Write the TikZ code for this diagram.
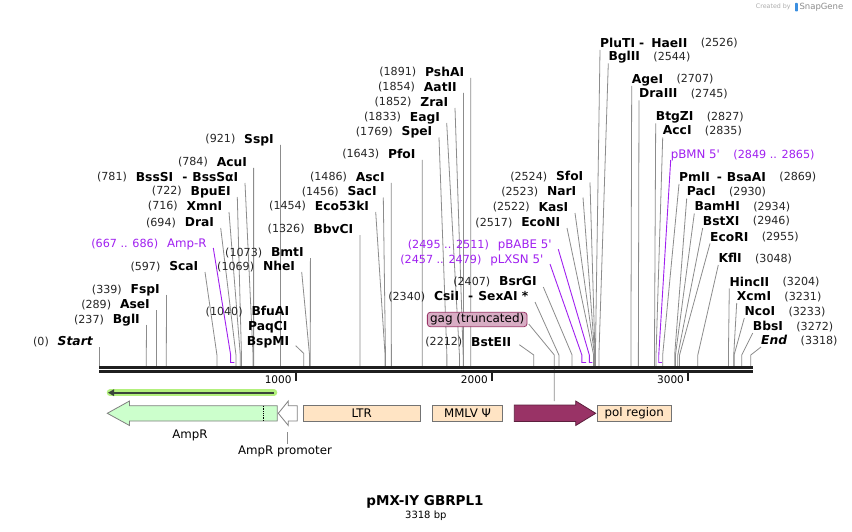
\documentclass[tikz,border=0pt]{standalone}
\usepackage{fontspec}
\setmainfont{DejaVu Sans}
\newfontfamily\primerfont{DejaVu Sans}
\usetikzlibrary{positioning}
\usetikzlibrary{calc}
\usetikzlibrary{arrows.meta}
\definecolor{linegray}{HTML}{8C8C8C}
\definecolor{primer}{HTML}{A020F0}
\definecolor{ampgreen}{HTML}{CCFFCC}
\definecolor{bisque}{HTML}{FFE4C4}
\definecolor{gagred}{HTML}{993366}
\definecolor{gagpink}{HTML}{D8ADC4}
\definecolor{orfglow}{HTML}{B2F07C}
\definecolor{orfdark}{HTML}{3A453A}
\definecolor{snapblue}{HTML}{3B8FE0}
\newcommand{\bpx}[1]{99.8+0.1962*#1}
\tikzset{sitename/.style={font=\fontsize{12.3}{14}\selectfont\bfseries, inner sep=0pt, text height=9pt, text depth=0pt}}
\tikzset{sitepos/.style={font=\fontsize{11.1}{13}\selectfont, text=black!85, inner sep=0pt, text height=8pt, text depth=0pt}}
\tikzset{primername/.style={font=\fontsize{11.8}{14}\primerfont, text=primer, inner sep=0pt, text height=8.6pt, text depth=0pt}}
\tikzset{primerpos/.style={primername, font=\fontsize{11.2}{13}\primerfont}}
\tikzset{siteline/.style={draw=linegray, line width=0.8pt}}
\tikzset{primerline/.style={draw=primer, line width=0.9pt}}
\tikzset{featbox/.style={draw=black!55, fill=bisque, line width=0.8pt, inner sep=0pt, minimum height=15.5pt, font=\fontsize{11.8}{13}\selectfont}}
\tikzset{featlabel/.style={font=\fontsize{11.8}{13}\selectfont, inner sep=0pt}}
\tikzset{ticklabel/.style={font=\fontsize{10.5}{13}\selectfont, inner sep=0pt, anchor=east}}

\begin{document}
\begin{tikzpicture}[x=1pt, y=-1pt]
\useasboundingbox (0,0) rectangle (852,532);
\fill[white] (0,0) rectangle (852,532);

% sites labelled on the left
\foreach \id/\nm/\ps/\tx/\ty in {
  start/\textit{Start}/0/99.8/347, bgl/BglI/237/146.5/325, ase/AseI/289/156.5/310,
  fsp/FspI/339/166.5/295, sca/ScaI/597/205/272, dra/DraI/694/220.7/228,
  xmn/XmnI/716/229/212, bpu/BpuEI/722/237.3/197,
  bss/{BssSI\hspace{9pt}-\hspace{5pt}BssSαI}/781/245/183, acu/AcuI/784/253.6/168,
  ssp/SspI/921/280.5/145, bmt/BmtI/1073/310.4/258, nhe/NheI/1069/301.7/272,
  bbv/BbvCI/1326/360/235, ecok/Eco53kI/1454/375.7/212, sac/SacI/1456/383.3/197.5,
  asc/AscI/1486/391.3/183, pfo/PfoI/1643/422.2/160, spe/SpeI/1769/439/137.5,
  eag/EagI/1833/446.7/123, zra/ZraI/1852/455/108, aat/AatII/1854/463.5/93,
  psh/PshAI/1891/470.8/78, csi/{CsiI\hspace{9pt}-\hspace{5pt}SexAI *}/2340/535/302,
  bsrg/BsrGI/2407/543.3/287, econ/EcoNI/2517/567/228, kas/KasI/2522/575/213,
  nar/NarI/2523/583/197.5, sfo/SfoI/2524/590/182.5}{
  \coordinate (\id-t) at (\tx,\ty);
  \coordinate (\id-b) at ({\bpx{\ps}},355);
  \coordinate (\id-s) at ({\bpx{\ps}},366);
  \node[sitename, anchor=east] (\id) at ($(\id-t)+(-6.5,-6)$) {\nm};
  \node[sitepos, left=8.5pt of \id] (\id-p) {(\ps)};
  \draw[siteline] (\id-t) -- (\id-b) -- (\id-s);
}

% sites labelled on the right
\foreach \id/\nm/\ps/\tx/\ty in {
  plu/{PluTI\hspace{4pt}-\hspace{7pt}HaeII}/2526/600/50, bglii/BglII/2544/608.3/63.3,
  age/AgeI/2707/631.7/86, draiii/DraIII/2745/639/100.5, btg/BtgZI/2827/655.7/123.3,
  acc/AccI/2835/662.7/137.5, pml/{PmlI\hspace{7pt}-\hspace{5pt}BsaAI}/2869/679/184,
  pac/PacI/2930/686.7/198.5, bam/BamHI/2934/694.3/213.5, bstx/BstXI/2946/702.7/228,
  ecor/EcoRI/2955/710/243.5, kfl/KflI/3048/718.3/265, hinc/HincII/3204/729.3/288.5,
  xcm/XcmI/3231/736.7/303, nco/NcoI/3233/744.3/318, bbs/BbsI/3272/752.7/333,
  fin/\textit{End}/3318/761/347}{
  \coordinate (\id-t) at (\tx,\ty);
  \coordinate (\id-b) at ({\bpx{\ps}},355);
  \coordinate (\id-s) at ({\bpx{\ps}},366);
  \node[sitename, anchor=west] (\id) at ($(\id-t)+(0,-7)$) {\nm};
  \node[sitepos, right=13pt of \id] (\id-p) {(\ps)};
  \draw[siteline] (\id-t) -- (\id-b) -- (\id-s);
}

% BfuAI / PaqCI / BspMI
\node[sitename] (bfu) at (270.3,311) {BfuAI};
\node[sitename] (paq) at (267.8,326) {PaqCI};
\node[sitename] (bspm) at (268,341) {BspMI};
\node[sitepos, left=8.5pt of bfu] (bfu-p) {(1040)};
\coordinate (bfu-t) at (295.7,345.7);
\coordinate (bfu-b) at ({\bpx{1040}},353.5);
\coordinate (bfu-s) at ({\bpx{1040}},366);
\draw[siteline] (bfu-t) -- (bfu-b) -- (bfu-s);

% BstEII
\node[sitename, anchor=east] (bste) at (511.5,341.5) {BstEII};
\node[sitepos, left=8.5pt of bste] (bste-p) {(2212)};
\coordinate (bste-t) at (519.3,344.7);
\coordinate (bste-b) at ({\bpx{2212}},355);
\coordinate (bste-s) at ({\bpx{2212}},366);
\draw[siteline] (bste-t) -- (bste-b) -- (bste-s);

% primers
\foreach \id/\nm/\ps/\tx/\ty/\pa/\pb in {
  ampr/Amp-R/667 .. 686/213.3/248/667/686,
  lxsn/pLXSN 5'/2457 .. 2479/550/264/2457/2479,
  babe/pBABE 5'/2495 .. 2511/558.3/249.3/2495/2511}{
  \coordinate (\id-t) at (\tx,\ty);
  \coordinate (\id-b) at ({\bpx{\pa}},355);
  \coordinate (\id-s) at ({\bpx{\pa}},362.5);
  \coordinate (\id-e) at ({\bpx{\pb}},362.5);
  \node[primername, anchor=east] (\id) at ($(\id-t)+(-6.5,-5)$) {\nm};
  \node[primerpos, left=8.5pt of \id] (\id-p) {(\ps)};
  \draw[primerline] (\id-t) -- (\id-b) -- (\id-s) -- (\id-e);
}
\coordinate (pbmn-t) at (670.7,160);
\coordinate (pbmn-b) at ({\bpx{2849}},355);
\coordinate (pbmn-s) at ({\bpx{2849}},362.5);
\coordinate (pbmn-e) at ({\bpx{2865}},362.5);
\node[primername, anchor=west] (pbmn) at ($(pbmn-t)+(0,-6)$) {pBMN 5'};
\node[primerpos, right=13pt of pbmn] (pbmn-p) {(2849 .. 2865)};
\draw[primerline] (pbmn-t) -- (pbmn-b) -- (pbmn-s) -- (pbmn-e);

% gag label
\node[draw=gagred, fill=gagpink, rounded corners=3pt, line width=0.8pt, inner sep=0pt,
  minimum width=99.7pt, minimum height=14.4pt, font=\fontsize{12}{13}\selectfont] (gag) at (477.2,319.5) {gag (truncated)};
\coordinate (gag-b) at (554.3,355);
\coordinate (gag-s) at (554.3,401);
\draw[siteline] ($(gag.east)+(1.3,4.5)$) -- (gag-b) -- (gag-s);

% backbone
\draw[black!88, line width=3pt] (99,367) -- (752.5,367);
\draw[black!88, line width=2.5pt] (99,371.6) -- (752.5,371.6);
\foreach \k in {1000,2000,3000}{
  \draw[black!88, line width=1.8pt] ({\bpx{\k}},372) -- ({\bpx{\k}},380.5);
  \node[ticklabel] (tick\k) at ({\bpx{\k}-4.3},379.5) {\k};
}

% features
\draw[orfglow, line width=6.5pt, line cap=round] (110,392.7) -- (274,392.7);
\draw[orfdark, line width=2.4pt, -{Triangle[length=6pt,width=6.5pt]}] (274,392.7) -- (108,392.7);
\draw[draw=black!50, fill=ampgreen, line width=0.8pt] (107.3,413.3) -- (129.5,401) -- (129.5,405.7) -- (277.3,405.7)
  -- (277.3,421) -- (129.5,421) -- (129.5,425.5) -- cycle;
\draw[black, line width=0.8pt, densely dotted] (263.3,405.7) -- (263.3,421);
\draw[draw=black!50, fill=white, line width=0.8pt] (278.3,413.3) -- (288.3,401) -- (288.3,405.7) -- (297.3,405.7)
  -- (297.3,421) -- (288.3,421) -- (288.3,425.5) -- cycle;
\node[featbox, minimum width=116.7pt] (ltr) at (361.7,413.3) {LTR};
\node[featbox, minimum width=69.6pt] (psi) at (467.5,413.3) {MMLV Ψ};
\draw[draw=gagred!60!black, fill=gagred, line width=0.8pt] (514.3,405) -- (575.7,405) -- (575.7,401)
  -- (595.7,413.3) -- (575.7,425.5) -- (575.7,421.5) -- (514.3,421.5) -- cycle;
\node[featbox, minimum width=73.7pt] (pol) at (634.2,413.3) {pol region};
\node[featlabel] (amplbl) at (190,435) {AmpR};
\node[featlabel] (promlbl) at (285,451) {AmpR promoter};
\coordinate (prom-c) at (287.7,432.3);
\draw[linegray, line width=0.8pt] (prom-c) -- ($(promlbl.north)+(2.7,-1.5)$);

% title
\node[font=\fontsize{13.5}{16}\selectfont\bfseries] (title) at (425,501.5) {pMX-IY GBRPL1};
\node[font=\fontsize{10}{12}\selectfont] (size) at (425.8,515.5) {3318 bp};

% credit
\node[font=\fontsize{6.3}{7}\selectfont, text=black!32, inner sep=0pt] (credit) at (773.3,6.8) {Created by};
\fill[snapblue, rounded corners=0.8pt] (795,2.8) rectangle (797.8,11.5);
\node[font=\fontsize{8.5}{9}\selectfont, text=black!45, inner sep=0pt, anchor=west] (snapgene) at (799.3,6.8) {SnapGene};
\end{tikzpicture}
\end{document}
